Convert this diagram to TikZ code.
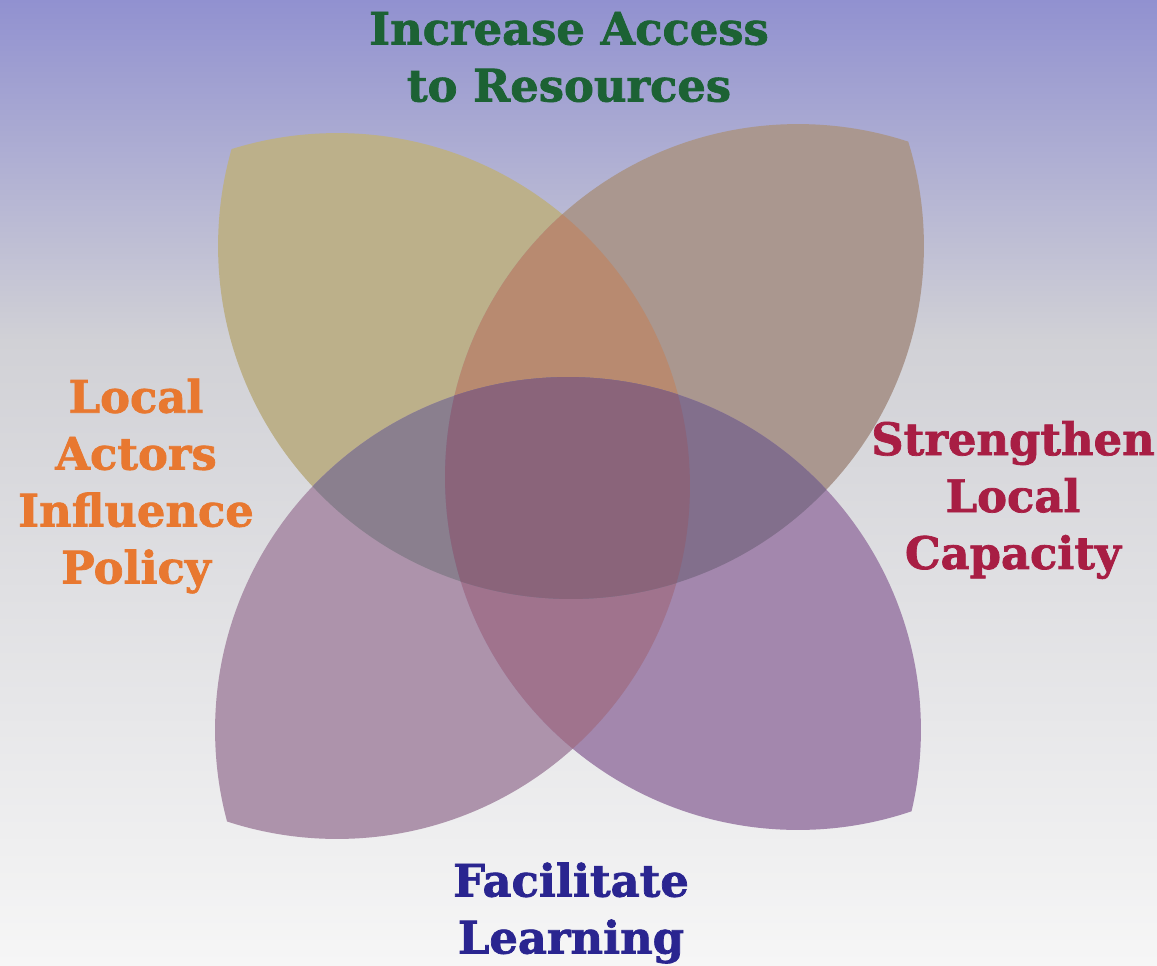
\documentclass[tikz,border=0pt]{standalone}
\usepackage{fontspec}
\newfontfamily\goalserif{DejaVu Serif}[BoldFeatures={FakeBold=1.6}]
\definecolor{skytop}{RGB}{145,145,208}
\definecolor{skymid}{RGB}{209,209,214}
\definecolor{skylow}{RGB}{246,246,246}
\definecolor{tlpetal}{RGB}{188,176,138}
\definecolor{trpetal}{RGB}{170,151,143}
\definecolor{blpetal}{RGB}{173,147,171}
\definecolor{brpetal}{RGB}{163,135,173}
\definecolor{toppair}{RGB}{184,138,112}
\definecolor{leftpair}{RGB}{138,127,142}
\definecolor{rightpair}{RGB}{130,111,140}
\definecolor{bottompair}{RGB}{160,115,141}
\definecolor{core}{RGB}{138,100,122}
\definecolor{accessgreen}{RGB}{28,98,52}
\definecolor{policyorange}{RGB}{232,120,48}
\definecolor{capacityred}{RGB}{168,30,68}
\definecolor{learningblue}{RGB}{42,37,144}
\def\petalr{7.06cm}
\tikzset{
    goal/.style={font=\goalserif\bfseries\fontsize{25.5pt}{32.4pt}\selectfont, align=center, inner sep=0pt}
}

\begin{document}
\begin{tikzpicture}[x=0.02cm,y=-0.02cm]
                    \useasboundingbox (0,0) rectangle (1157,965);
                    \shade[top color=skytop,bottom color=skymid] (0,0) rectangle (1157,341);
                    \shade[top color=skymid,bottom color=skylow] (0,340) rectangle (1157,965);
                    \coordinate (N) at (571,246);
                    \coordinate (S) at (568,730);
                    \coordinate (W) at (337,486);
                    \coordinate (E) at (798,477);
                    \foreach \p/\q/\col in {N/W/tlpetal,N/E/trpetal,S/W/blpetal,S/E/brpetal}{
                        \begin{scope}
                            \clip (\p) circle[radius=\petalr];
                            \fill[\col] (\q) circle[radius=\petalr];
                        \end{scope}
                    }
                    \foreach \p/\q/\r/\col in {N/W/E/toppair,S/W/E/bottompair,W/N/S/leftpair,E/N/S/rightpair}{
                        \begin{scope}
                            \clip (\p) circle[radius=\petalr];
                            \clip (\q) circle[radius=\petalr];
                            \fill[\col] (\r) circle[radius=\petalr];
                        \end{scope}
                    }
                    \begin{scope}
                        \clip (N) circle[radius=\petalr];
                        \clip (S) circle[radius=\petalr];
                        \clip (W) circle[radius=\petalr];
                        \fill[core] (E) circle[radius=\petalr];
                    \end{scope}
                    \node[goal,text=accessgreen] (access) at (569,57) {Increase Access\\to Resources};
                    \node[goal,text=policyorange] (policy) at (136,486) {Local\\Actors\\Influence\\Policy};
                    \node[goal,text=capacityred] (capacity) at (1013,500) {Strengthen\\Local\\Capacity};
                    \node[goal,text=learningblue] (learning) at (571,913) {Facilitate\\Learning};
                \end{tikzpicture}
\end{document}
